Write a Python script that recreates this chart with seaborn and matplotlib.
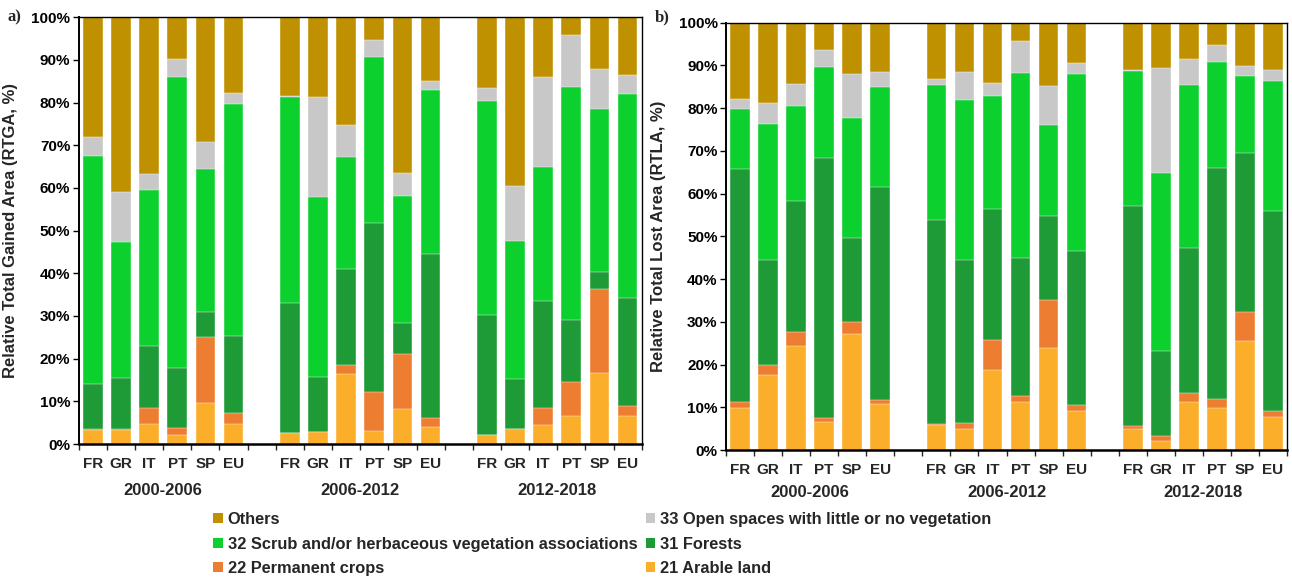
import numpy as np
import pandas as pd
import matplotlib
matplotlib.use("Agg")
import matplotlib.pyplot as plt
import matplotlib.transforms as mtransforms
from matplotlib.patches import Patch
import seaborn as sns

sns.set_theme(style="white")
plt.rcParams['font.family'] = ['Liberation Sans', 'DejaVu Sans']

# ---------------- data ----------------
countries = ["FR", "GR", "IT", "PT", "SP", "EU"]
periods = ["2000-2006", "2006-2012", "2012-2018"]
categories = ["21 Arable land", "22 Permanent crops", "31 Forests",
              "32 Scrub and/or herbaceous vegetation associations",
              "33 Open spaces with little or no vegetation", "Others"]

# Panel a) Relative Total Gained Area (%), per period: FR, GR, IT, PT, SP, EU
gain_arable = [[3.3, 3.3, 4.7, 2.0, 9.7, 4.7], [2.5, 2.7, 16.3, 3.0, 8.3, 4.1], [2.0, 3.5, 4.5, 6.6, 16.7, 6.6]]
gain_perm = [[0.1, 0.2, 3.7, 1.8, 15.3, 2.6], [0.1, 0.1, 2.2, 9.3, 12.8, 2.1], [0.1, 0.1, 4.0, 8.0, 19.6, 2.3]]
gain_forest = [[10.7, 11.9, 14.6, 13.9, 5.9, 17.9], [30.4, 12.9, 22.4, 39.5, 7.2, 38.4], [28.1, 11.6, 24.9, 14.4, 4.0, 25.4]]
gain_scrub = [[53.4, 31.9, 36.5, 68.2, 33.6, 54.5], [48.3, 42.2, 26.3, 38.8, 29.8, 38.4], [50.2, 32.3, 31.6, 54.6, 38.2, 47.7]]
gain_open = [[4.5, 11.8, 3.8, 4.3, 6.2, 2.5], [0.2, 23.5, 7.6, 4.0, 5.3, 2.1], [3.0, 12.9, 21.0, 12.3, 9.3, 4.4]]
gain_others = [[28.0, 40.9, 36.7, 9.8, 29.3, 17.8], [18.5, 18.6, 25.2, 5.4, 36.6, 14.9], [16.6, 39.6, 14.0, 4.1, 12.2, 13.6]]

# Panel b) Relative Total Lost Area (%)
loss_arable = [[9.75, 17.5, 24.3, 6.5, 27.2, 10.8], [5.9, 4.9, 18.7, 11.3, 23.8, 9.1], [4.9, 2.0, 11.3, 9.8, 25.5, 7.7]]
loss_perm = [[1.6, 2.3, 3.4, 0.9, 2.7, 1.0], [0.2, 1.5, 7.0, 1.4, 11.4, 1.5], [0.7, 1.2, 2.0, 2.1, 6.9, 1.4]]
loss_forest = [[54.5, 24.6, 30.6, 60.9, 19.7, 49.8], [47.8, 38.1, 30.7, 32.3, 19.5, 36.0], [51.4, 19.9, 34.0, 54.0, 37.0, 46.8]]
loss_scrub = [[13.9, 31.8, 22.2, 21.4, 28.2, 23.3], [31.5, 37.4, 26.4, 43.3, 21.4, 41.4], [31.7, 41.8, 38.1, 25.0, 18.1, 30.4]]
loss_open = [[2.4, 4.9, 5.1, 3.9, 10.3, 3.5], [1.5, 6.5, 3.2, 7.4, 9.1, 2.5], [0.2, 24.6, 6.1, 3.9, 2.3, 2.6]]
loss_others = [[17.9, 18.9, 14.4, 6.4, 11.9, 11.6], [13.1, 11.6, 14.0, 4.3, 14.8, 9.5], [11.1, 10.5, 8.5, 5.2, 10.2, 11.1]]

colors = {
    "21 Arable land": "#FBAE2A",
    "22 Permanent crops": "#ED7D31",
    "31 Forests": "#1E9B36",
    "32 Scrub and/or herbaceous vegetation associations": "#0BD02D",
    "33 Open spaces with little or no vegetation": "#C8C8C8",
    "Others": "#BF9000",
}

# slot order with empty gap slots between periods
slot_order = []
for pi, p in enumerate(periods):
    slot_order += [f"{p}|{c}" for c in countries]
    if pi < len(periods) - 1:
        slot_order.append(f"gap{pi}")


def build_df(series):
    rows = []
    for cat, vals in zip(categories, series):
        for pi, p in enumerate(periods):
            for ci, c in enumerate(countries):
                rows.append(dict(slot=f"{p}|{c}", category=cat, value=vals[pi][ci]))
    df = pd.DataFrame(rows)
    df["category"] = pd.Categorical(df["category"], categories=categories, ordered=True)
    df = df.sort_values(["slot", "category"])
    df["top"] = df.groupby("slot")["value"].cumsum()
    return df


df_gain = build_df([gain_arable, gain_perm, gain_forest, gain_scrub, gain_open, gain_others])
df_loss = build_df([loss_arable, loss_perm, loss_forest, loss_scrub, loss_open, loss_others])

fig = plt.figure(figsize=(12.92, 5.79), dpi=100)
W, H = 1292, 579
ax_a = fig.add_axes([78.7 / W, 1 - 444 / H, (641.7 - 78.7) / W, (444 - 17.3) / H])
ax_b = fig.add_axes([726 / W, 1 - 450 / H, (1287 - 726) / W, (450 - 22.7) / H])


def draw(ax, df, ylabel, ylab_x, grp_y):
    for cat in reversed(categories):
        sub = df[df["category"] == cat]
        sns.barplot(data=sub, x="slot", y="top", order=slot_order, color=colors[cat],
                    width=0.70, saturation=1, edgecolor="white", linewidth=0.3,
                    errorbar=None, ax=ax)
    ax.set_xlim(-0.5, len(slot_order) - 0.5)
    ax.set_ylim(0, 100)
    ax.set_yticks(np.arange(0, 101, 10))
    ax.set_yticklabels([f"{v}%" for v in range(0, 101, 10)], fontsize=11, fontweight="bold")
    ax.tick_params(axis="y", direction="out", length=4, width=1, pad=2, left=True, colors="black")
    labels = [s.split("|")[1] if "|" in s else "" for s in slot_order]
    ax.set_xticks(range(len(slot_order)))
    ax.set_xticklabels(labels, fontsize=11, fontweight="bold")
    ax.tick_params(axis="x", which="major", length=0, pad=9)
    ax.set_xticks(np.arange(-0.5, len(slot_order), 1), minor=True)
    ax.tick_params(axis="x", which="minor", direction="out", length=4, width=1, bottom=True)
    ax.set_xlabel("")
    ax.set_ylabel(ylabel, fontsize=12, fontweight="bold")
    ax.yaxis.set_label_coords(ylab_x, 0.5)
    for sp in ax.spines.values():
        sp.set_visible(True)
        sp.set_color("black")
        sp.set_linewidth(1.0)
    ax.spines["bottom"].set_linewidth(1.8)
    ax.spines["left"].set_linewidth(1.4)
    trans = mtransforms.blended_transform_factory(ax.transData, ax.transAxes)
    for pi, p in enumerate(periods):
        xc = pi * 7 + 2.5
        ax.text(xc, grp_y, p, transform=trans, ha="center", va="center",
                fontsize=12, fontweight="bold")


draw(ax_a, df_gain, "Relative Total Gained Area (RTGA, %)", -0.108, -0.108)
draw(ax_b, df_loss, "Relative Total Lost Area (RTLA, %)", -0.107, -0.100)

fig.text(8 / W, 1 - 17 / H, "a)", family="Liberation Serif", fontweight="bold",
         fontsize=12, ha="left", va="center")
fig.text(655 / W, 1 - 17 / H, "b)", family="Liberation Serif", fontweight="bold",
         fontsize=12, ha="left", va="center")

leg_order = ["Others", "32 Scrub and/or herbaceous vegetation associations", "22 Permanent crops",
             "33 Open spaces with little or no vegetation", "31 Forests", "21 Arable land"]
handles = [Patch(facecolor=colors[c], edgecolor="none", label=c) for c in leg_order]
fig.legend(handles=handles, loc="upper left", bbox_to_anchor=(213 / W, 1 - 512 / H), ncol=2,
           frameon=False, borderpad=0, borderaxespad=0, handlelength=0.6, handleheight=0.6,
           handletextpad=0.3, columnspacing=0.5, labelspacing=0.58,
           prop=dict(size=11.8, weight="bold"))

fig.savefig("out.png", dpi=100)
